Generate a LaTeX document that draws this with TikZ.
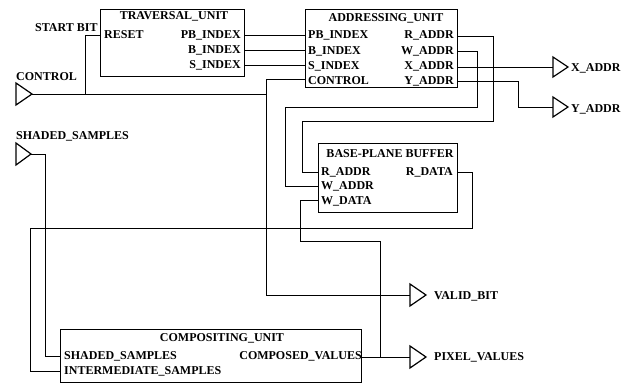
\documentclass[tikz,border=0pt]{standalone}
\usepackage{fontspec}
\setmainfont{Liberation Serif}
\begin{document}
\begin{tikzpicture}[x=1pt,y=-1pt,
  lbl/.style={font=\bfseries\fontsize{12}{12}\selectfont, inner sep=0pt},
  unit/.style={draw, line width=1.3pt, inner sep=0pt, anchor=north west},
  wire/.style={line width=0.8pt},
  tri/.style={draw, line width=1.2pt, line join=miter}]
\useasboundingbox (0,0) rectangle (637,385);
\fill[white] (0,0) rectangle (637,385);

% ---- boxes
\node[unit, minimum width=144pt, minimum height=67pt] (tu) at (100,9) {};
\node[unit, minimum width=152pt, minimum height=78pt] (au) at (305,9) {};
\node[unit, minimum width=139pt, minimum height=69pt] (bpb) at (318,143) {};
\node[unit, minimum width=301pt, minimum height=53pt] (cu) at (60,329) {};

% ---- box texts
\node[lbl] (tut) at (174,16) {TRAVERSAL\_UNIT};
\node[lbl, anchor=west] (tur) at (104,35) {RESET};
\node[lbl, anchor=east] (tupbt) at (241,35) {PB\_INDEX};
\node[lbl, anchor=east] (tubt) at (241,50) {B\_INDEX};
\node[lbl, anchor=east] (tust) at (241,65) {S\_INDEX};

\node[lbl] (aut) at (386,18) {ADDRESSING\_UNIT};
\node[lbl, anchor=west] (au1) at (308,35) {PB\_INDEX};
\node[lbl, anchor=west] (au2) at (308,51) {B\_INDEX};
\node[lbl, anchor=west] (au3) at (308,66) {S\_INDEX};
\node[lbl, anchor=west] (au4) at (308,81) {CONTROL};
\node[lbl, anchor=east] (au5) at (454,35) {R\_ADDR};
\node[lbl, anchor=east] (au6) at (454,51) {W\_ADDR};
\node[lbl, anchor=east] (au7) at (454,66) {X\_ADDR};
\node[lbl, anchor=east] (au8) at (454,81) {Y\_ADDR};

\node[lbl] (bpbt) at (390,154) {BASE-PLANE BUFFER};
\node[lbl, anchor=west] (bp1) at (321,172) {R\_ADDR};
\node[lbl, anchor=west] (bp2) at (321,186) {W\_ADDR};
\node[lbl, anchor=west] (bp3) at (321,201) {W\_DATA};
\node[lbl, anchor=east] (bp4) at (453,172) {R\_DATA};

\node[lbl] (cut) at (222,338) {COMPOSITING\_UNIT};
\node[lbl, anchor=west] (cu1) at (64,356) {SHADED\_SAMPLES};
\node[lbl, anchor=west] (cu2) at (64,371) {INTERMEDIATE\_SAMPLES};
\node[lbl, anchor=east] (cu3) at (362,356) {COMPOSED\_VALUES};

% ---- outside labels
\node[lbl, anchor=west] (lstart) at (35,28) {START BIT};
\node[lbl, anchor=west] (lctl) at (16,77) {CONTROL};
\node[lbl, anchor=west] (lsh) at (16,136) {SHADED\_SAMPLES};
\node[lbl, anchor=west] (lx) at (571,68) {X\_ADDR};
\node[lbl, anchor=west] (ly) at (571,109) {Y\_ADDR};
\node[lbl, anchor=west] (lv) at (434,296) {VALID\_BIT};
\node[lbl, anchor=west] (lp) at (434,357) {PIXEL\_VALUES};

% ---- pins
\coordinate (tureset) at (100,35);
\coordinate (tupb) at (244,35);
\coordinate (tub) at (244,50);
\coordinate (tus) at (244,65);
\coordinate (aupb) at (305,35);
\coordinate (aub) at (305,50);
\coordinate (aus) at (305,65);
\coordinate (auctl) at (305,79);
\coordinate (auraddr) at (457,36);
\coordinate (auwaddr) at (457,51);
\coordinate (auxaddr) at (457,67);
\coordinate (auyaddr) at (457,81);
\coordinate (bpraddr) at (318,172);
\coordinate (bpwaddr) at (318,186);
\coordinate (bpwdata) at (318,200);
\coordinate (bprdata) at (457,172);
\coordinate (cushaded) at (60,356);
\coordinate (cuinter) at (60,371);
\coordinate (cucomp) at (361,357);

% ---- ports (triangles)
\coordinate (ctlin) at (32,94);
\coordinate (shin) at (31,154);
\coordinate (xout) at (553,67);
\coordinate (yout) at (553,107);
\coordinate (vout) at (410,295);
\coordinate (pout) at (410,357);
\draw[tri] (ctlin) -- ++(-16,-11) -- ++(0,22) -- cycle;
\draw[tri] (shin) -- ++(-15,-11) -- ++(0,22) -- cycle;
\draw[tri] (xout) -- ++(0,-10) -- ++(15,10) -- ++(-15,10) -- cycle;
\draw[tri] (yout) -- ++(0,-10) -- ++(15,10) -- ++(-15,10) -- cycle;
\draw[tri] (vout) -- ++(0,-11) -- ++(16,11) -- ++(-16,11) -- cycle;
\draw[tri] (pout) -- ++(0,-11) -- ++(16,11) -- ++(-16,11) -- cycle;

% ---- junction points
\coordinate (cbus) at (266,94);
\coordinate (rbus) at (85,94);
\coordinate (jcomp) at (380,357);

% ---- wires
\draw[wire] (tupb) -- (aupb);
\draw[wire] (tub) -- (aub);
\draw[wire] (tus) -- (aus);
\draw[wire] (ctlin) -- (cbus);
\draw[wire] (rbus) |- (tureset);
\draw[wire] (auctl) -- ++(-39,0) |- (vout);
\draw[wire] (auwaddr) -- ++(20,0) |- (285,107) |- (bpwaddr);
\draw[wire] (auraddr) -- ++(36,0) |- (302,121) |- (bpraddr);
\draw[wire] (auxaddr) -- (xout);
\draw[wire] (auyaddr) -- ++(61,0) |- (yout);
\draw[wire] (bprdata) -- ++(15,0) |- (30,228) |- (cuinter);
\draw[wire] (cucomp) -- (pout);
\draw[wire] (bpwdata) -- ++(-18,0) |- (380,241) -- (jcomp);
\draw[wire] (shin) -- ++(14,0) |- (cushaded);
\end{tikzpicture}
\end{document}
